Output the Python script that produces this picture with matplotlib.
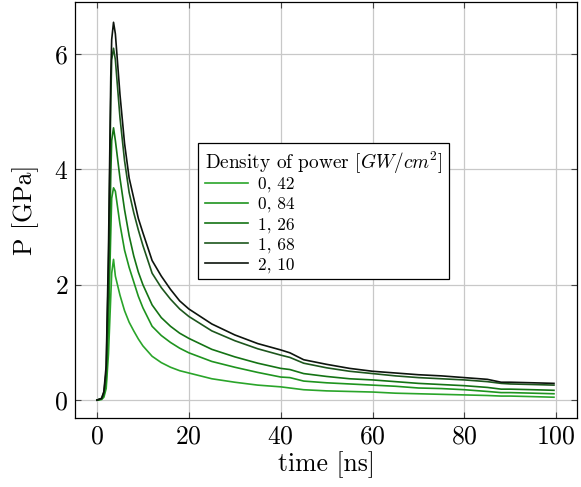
import matplotlib
matplotlib.use("Agg")
import matplotlib.pyplot as plt

plt.rcParams['font.family'] = ['cmr10', 'DejaVu Serif']
plt.rcParams['mathtext.fontset'] = 'cm'
plt.rcParams['axes.formatter.use_mathtext'] = True

time_ns = [0, 1, 1.5, 2, 2.5, 3, 3.2, 3.6, 4, 5, 6, 7, 8, 9, 10, 12, 14, 16, 18, 20,
           25, 30, 35, 40, 42, 45, 50, 55, 60, 65, 70, 75, 80, 85, 88, 90, 95, 99.5]

p_042 = [0, 0.01, 0.05, 0.2, 0.8, 1.8, 2.2, 2.44, 2.15, 1.82, 1.55, 1.35, 1.2, 1.06, 0.94, 0.76, 0.65, 0.57, 0.51, 0.47,
         0.37, 0.31, 0.26, 0.23, 0.21, 0.18, 0.16, 0.15, 0.14, 0.12, 0.11, 0.10, 0.09, 0.08, 0.07, 0.07, 0.06, 0.05]
p_084 = [0, 0.02, 0.08, 0.3, 1.3, 2.9, 3.5, 3.68, 3.62, 3.05, 2.6, 2.3, 2.05, 1.8, 1.6, 1.28, 1.12, 1.0, 0.9, 0.82,
         0.67, 0.57, 0.48, 0.40, 0.39, 0.33, 0.30, 0.28, 0.26, 0.24, 0.21, 0.20, 0.18, 0.15, 0.13, 0.13, 0.12, 0.11]
p_126 = [0, 0.02, 0.1, 0.4, 1.8, 3.9, 4.5, 4.72, 4.5, 3.85, 3.3, 2.85, 2.5, 2.22, 2.0, 1.65, 1.43, 1.28, 1.16, 1.07,
         0.88, 0.75, 0.64, 0.55, 0.53, 0.46, 0.41, 0.37, 0.35, 0.32, 0.29, 0.27, 0.25, 0.22, 0.19, 0.19, 0.18, 0.17]
p_168 = [0, 0.03, 0.13, 0.5, 2.3, 5.2, 5.9, 6.1, 5.9, 4.9, 4.15, 3.6, 3.25, 2.95, 2.68, 2.2, 1.95, 1.75, 1.58, 1.45,
         1.2, 1.03, 0.89, 0.78, 0.74, 0.64, 0.56, 0.50, 0.46, 0.42, 0.39, 0.37, 0.35, 0.32, 0.29, 0.28, 0.27, 0.26]
p_210 = [0, 0.03, 0.15, 0.6, 2.6, 5.6, 6.25, 6.55, 6.35, 5.3, 4.45, 3.85, 3.5, 3.15, 2.9, 2.42, 2.15, 1.92, 1.72, 1.58,
         1.32, 1.13, 0.98, 0.87, 0.82, 0.70, 0.62, 0.55, 0.50, 0.47, 0.44, 0.42, 0.39, 0.36, 0.31, 0.31, 0.30, 0.29]

labels = ['0, 42', '0, 84', '1, 26', '1, 68', '2, 10']
series = [p_042, p_084, p_126, p_168, p_210]
colors = ['#2aa52a', '#1f941f', '#147314', '#1d561d', '#0d140d']

fig = plt.figure(figsize=(5.81, 4.87), dpi=100)
ax = fig.add_axes([0.129, 0.1417, 0.864, 0.854])

for vals, lab, c in zip(series, labels, colors):
    ax.plot(time_ns, vals, color=c, lw=1.2, label=lab)

ax.set_xlim(-4.8, 104.5)
ax.set_ylim(-0.31, 6.9)
ax.set_xticks([0, 20, 40, 60, 80, 100])
ax.set_yticks([0, 2, 4, 6])
ax.grid(True, color='#c8c8c8', lw=0.9)
ax.set_axisbelow(True)
ax.tick_params(direction='in', length=4, width=0.8, labelsize=18.5, top=True, right=True,
               color='#444444', pad=5)
for s in ax.spines.values():
    s.set_linewidth(0.9)
ax.set_xlabel('time [ns]', fontsize=18.5, labelpad=2)
ax.set_ylabel('P [GPa]', fontsize=18.5, labelpad=11)

leg = ax.legend(title='Density of power [$GW/cm^2$]', loc='upper left',
                bbox_to_anchor=(0.245, 0.661), fontsize=12.5, title_fontsize=13.9,
                frameon=True, fancybox=False, edgecolor='black', framealpha=1,
                handlelength=2.5, handletextpad=0.6, labelspacing=0.25,
                borderpad=0.38, alignment='left', borderaxespad=0)
leg.get_frame().set_linewidth(0.9)
try:
    leg._legend_box.sep = 0.5
except Exception:
    pass

fig.savefig('out.png', dpi=100)
